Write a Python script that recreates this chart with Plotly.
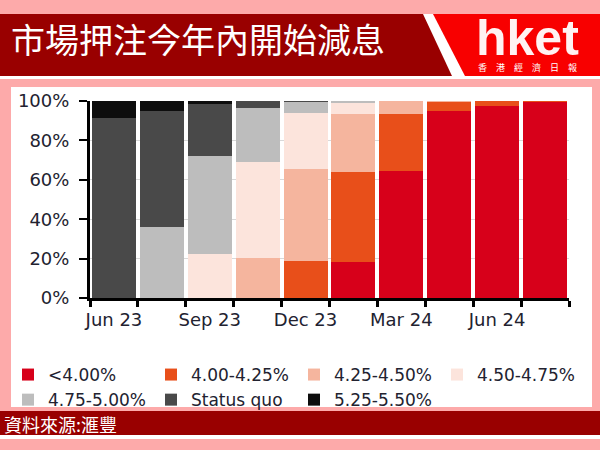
import plotly.graph_objects as go

# ---------------- data ----------------
meetings = ["Jun 23", "Jul 23", "Sep 23", "Nov 23", "Dec 23",
            "Jan 24", "Mar 24", "May 24", "Jun 24", "Jul 24"]
tick_labels = ["Jun 23", "", "Sep 23", "", "Dec 23", "", "Mar 24", "", "Jun 24", ""]
y_ticks = [0, 20, 40, 60, 80, 100]
y_tick_labels = ["0%", "20%", "40%", "60%", "80%", "100%"]

series_names = ["<4.00%", "4.00-4.25%", "4.25-4.50%", "4.50-4.75%",
                "4.75-5.00%", "Status quo", "5.25-5.50%"]
below_400 = [0, 0, 0, 0, 0, 18.1, 64.5, 95.0, 97.5, 99.5]
r400_425 = [0, 0, 0, 0, 18.9, 45.7, 28.7, 4.8, 2.5, 0.5]
r425_450 = [0, 0, 0, 20.5, 46.4, 29.4, 6.8, 0.2, 0, 0]
r450_475 = [0, 0, 22.3, 48.4, 28.8, 5.6, 0, 0, 0, 0]
r475_500 = [0, 36.2, 49.8, 27.7, 5.4, 1.2, 0, 0, 0, 0]
status_quo = [91.5, 58.8, 26.2, 3.4, 0.5, 0, 0, 0, 0, 0]
r525_550 = [8.5, 5.0, 1.7, 0, 0, 0, 0, 0, 0, 0]

series_values = [below_400, r400_425, r425_450, r450_475, r475_500, status_quo, r525_550]
series_colors = ["#D7001A", "#E84F1A", "#F5B59E", "#FCE4DC", "#BDBDBD", "#494949", "#0D0D0D"]

title_text = "市場押注今年內開始減息"
source_text = "資料來源:滙豐"
logo_text = "hket"
logo_sub_text = "香　港　經　濟　日　報"

# ---------------- layout geometry ----------------
W, H = 600, 450
L, R, T, B = 90, 31, 101, 152
PW, PH = W - L - R, H - T - B


def fx(px):
    return (px - L) / PW


def fy(py):
    return (H - B - py) / PH


PINK = "#FDAAAA"
DARK_RED = "#990000"
BRIGHT_RED = "#F80000"
TEXT_COL = "#222230"

fig = go.Figure()
for name, vals, col in zip(series_names, series_values, series_colors):
    fig.add_trace(go.Bar(x=meetings, y=vals, name=name,
                         marker=dict(color=col, line=dict(width=0))))


def rect(x0, y0, x1, y1, color):
    return dict(type="rect", xref="paper", yref="paper",
                x0=fx(x0), x1=fx(x1), y0=fy(y1), y1=fy(y0),
                fillcolor=color, line=dict(width=0), layer="below")


def poly(points, color):
    p = "M " + " L ".join(f"{fx(a):.5f},{fy(b):.5f}" for a, b in points) + " Z"
    return dict(type="path", xref="paper", yref="paper", path=p,
                fillcolor=color, line=dict(width=0), layer="below")


shapes = [
    rect(11, 87, 592, 407, "white"),           # chart panel
    rect(0, 14, 600, 79, "white"),             # header white base
    poly([(0, 14), (423, 14), (452, 76), (0, 76)], DARK_RED),
    poly([(433, 14), (600, 14), (600, 76), (465, 76)], BRIGHT_RED),
    rect(0, 411, 600, 439, "white"),
    rect(0, 411, 600, 435, DARK_RED),          # footer
]

logo_html = ("<span style='font-size:50px;font-family:Liberation Sans;color:#FFF2F2'><b>"
             + logo_text + "</b></span><br><span style='font-size:9px'>" + logo_sub_text + "</span>")

annotations = [
    dict(text=title_text, xref="paper", yref="paper", x=fx(9), y=fy(39),
         xanchor="left", yanchor="middle", showarrow=False,
         font=dict(family="Noto Sans CJK TC", size=34, color="white")),
    dict(text=logo_html, xref="paper", yref="paper", x=fx(527), y=fy(42),
         xanchor="center", yanchor="middle", showarrow=False, align="center",
         font=dict(family="Noto Sans CJK TC", size=12, color="white")),
    dict(text=source_text, xref="paper", yref="paper", x=fx(2), y=fy(424),
         xanchor="left", yanchor="middle", showarrow=False,
         font=dict(family="Noto Sans CJK TC", size=18, color="white")),
]

fig.update_layout(
    width=W, height=H,
    margin=dict(l=L, r=R, t=T, b=B, autoexpand=False),
    paper_bgcolor=PINK, plot_bgcolor="white",
    barmode="stack", bargap=0.08,
    font=dict(family="DejaVu Sans", color=TEXT_COL),
    shapes=shapes, annotations=annotations,
    showlegend=True,
    legend=dict(orientation="h", xref="paper", yref="paper",
                x=fx(8), y=fy(357), xanchor="left", yanchor="top",
                entrywidth=98, traceorder="normal",
                font=dict(family="DejaVu Sans", size=17, color=TEXT_COL),
                bgcolor="rgba(0,0,0,0)"),
    xaxis=dict(type="category", range=[-0.5, 9.5], tickmode="array",
               tickvals=meetings, ticktext=tick_labels, tickson="boundaries",
               tickangle=0, automargin=False, ticklabelstandoff=3,
               ticks="outside", ticklen=6, tickwidth=3, tickcolor="black",
               showline=True, linecolor="black", linewidth=3, showgrid=False,
               tickfont=dict(family="DejaVu Sans", size=18, color=TEXT_COL)),
    yaxis=dict(range=[0, 100], tickmode="array", tickvals=y_ticks, ticktext=y_tick_labels,
               automargin=False,
               ticks="outside", ticklen=8, tickwidth=2, tickcolor="black",
               showline=True, linecolor="black", linewidth=3,
               showgrid=True, gridcolor="#D9D9D9", gridwidth=1, zeroline=False,
               ticklabelstandoff=6,
               tickfont=dict(family="DejaVu Sans", size=18, color=TEXT_COL)),
)

fig.write_html("out.html",
               config={"displayModeBar": False},
               post_script="document.body.style.margin='0';document.body.style.background='" + PINK + "';")
